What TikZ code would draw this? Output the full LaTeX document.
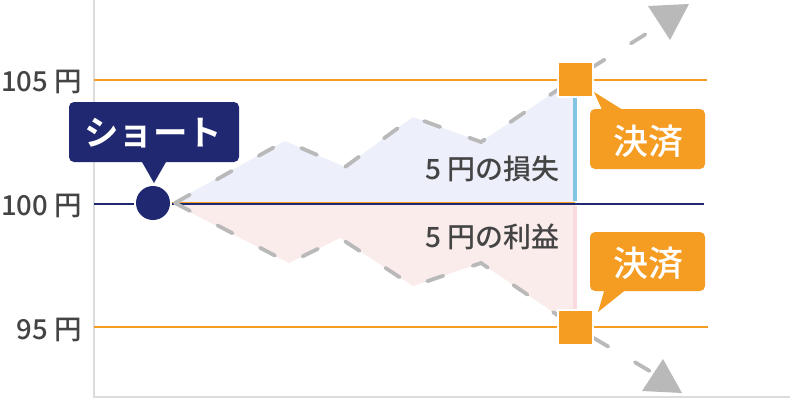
\documentclass[tikz,border=0pt]{standalone}
\usepackage{fontspec}
\setmainfont{Noto Sans CJK JP}
\newfontfamily\heavyjp{Noto Sans CJK JP Bold}
\newfontfamily\midjp{Noto Sans CJK JP Medium}
\definecolor{navy}{HTML}{1F2870}
\definecolor{amber}{HTML}{F59C23}
\definecolor{ink}{HTML}{444444}
\definecolor{dashgray}{HTML}{B9B9B9}
\definecolor{axisgray}{HTML}{DCDCDC}
\definecolor{lossfill}{HTML}{EDEFFA}
\definecolor{gainfill}{HTML}{FBECEC}
\definecolor{lossbar}{HTML}{82C4E4}
\definecolor{gainbar}{HTML}{FADADC}
\tikzset{
  pricelabel/.style={font=\midjp\fontsize{27.5pt}{30pt}\selectfont, text=ink, anchor=east, inner sep=0pt},
  arealabel/.style={font=\midjp\fontsize{28pt}{30pt}\selectfont, text=ink, inner sep=0pt},
  calloutlabel/.style={font=\midjp\fontsize{35pt}{38pt}\selectfont, text=white, inner sep=0pt},
  shortlabel/.style={font=\heavyjp\fontsize{34.5pt}{38pt}\selectfont, text=white, inner sep=0pt},
  pathdash/.style={draw=dashgray, line width=3.8pt, line cap=round, dash pattern=on 17pt off 31pt},
  pricelevel/.style={draw=amber, line width=2pt},
  tipshape/.style={fill=dashgray, draw=none},
  squaremark/.style={fill=amber, draw=white, line width=2pt, minimum size=35pt, inner sep=0pt, outer sep=0pt},
  dotmark/.style={circle, fill=navy, minimum size=34pt, inner sep=0pt, outer sep=0pt}
}
\begin{document}
\begin{tikzpicture}[x=1pt,y=-1pt]
\useasboundingbox (0,0) rectangle (800,400);
\fill[white] (0,0) rectangle (800,400);
% areas
\fill[lossfill] (172,203) -- (285,141) -- (345,167) -- (413,117) -- (481,142) -- (575,78) -- (575,203) -- cycle;
\fill[gainfill] (172,203) -- (289,263) -- (340,238) -- (413,286) -- (481,263) -- (575,327) -- (575,203) -- cycle;
% axes
\coordinate (axtop) at (94,0);
\coordinate (axcorner) at (94,397);
\coordinate (axend) at (790,397);
\draw[axisgray, line width=2pt] (axtop) -- (axcorner) -- (axend);
% levels
\coordinate (a1) at (94,80); \coordinate (a2) at (707,80);
\coordinate (b1) at (94,327); \coordinate (b2) at (708,327);
\coordinate (c1) at (94,204); \coordinate (c2) at (134,204);
\coordinate (c3) at (172,204); \coordinate (c4) at (704,204);
\coordinate (o1) at (172,202.6); \coordinate (o2) at (575,202.6);
\draw[pricelevel] (a1) -- (a2);
\draw[draw=amber, line width=2pt] (b1) -- (b2);
\draw[navy, line width=1.8pt] (c1) -- (c2);
\draw[amber, line width=1.4pt] (o1) -- (o2);
\draw[navy, line width=1.8pt] (c3) -- (c4);
% vertical bars
\coordinate (v1) at (575,98); \coordinate (v2) at (575,201);
\coordinate (v3) at (575,206); \coordinate (v4) at (575,310);
\draw[lossbar, line width=4pt] (v1) -- (v2);
\draw[gainbar, line width=4pt] (v3) -- (v4);
% dashed price paths
\coordinate (s) at (175,203);
\draw[pathdash] (s) -- (285,141) -- (345,167) -- (413,117) -- (481,142) -- (575,78) -- (675,16);
\draw[pathdash] (s) -- (289,263) -- (340,238) -- (413,286) -- (481,263) -- (575,327) -- (665,380);
% arrow heads
\fill[tipshape] (648,6) -- (689,4) -- (670,40) -- cycle;
\fill[tipshape] (663,359) -- (682,393) -- (642,391) -- cycle;
% markers
\node[squaremark] (sqa) at (575,79) {};
\node[squaremark] (sqb) at (575,327) {};
\node[dotmark] (pt) at (153,203) {};
% callouts
\fill[navy, rounded corners=5pt] (69,102) rectangle (239,162);
\fill[navy] (142,162) -- (154,183) -- (166,162) -- cycle;
\node[shortlabel] (short) at (153,133) {ショート};
\fill[amber, rounded corners=5pt] (590,109) rectangle (705,169);
\fill[amber] (594,92) -- (603,112) -- (626,112) -- cycle;
\node[calloutlabel] (k1) at (648,141) {決済};
\fill[amber, rounded corners=5pt] (590,232) rectangle (705,291);
\fill[amber] (598,312) -- (605,288) -- (628,288) -- cycle;
\node[calloutlabel] (k2) at (648,263) {決済};
% labels
\node[pricelabel] (p105) at (82,82) {105 円};
\node[pricelabel] (p100) at (82,206) {100 円};
\node[pricelabel] (p95) at (82,330) {95 円};
\node[arealabel, anchor=east] (loss) at (560,169) {5 円の損失};
\node[arealabel, anchor=east] (gain) at (560,237) {5 円の利益};
\end{tikzpicture}
\end{document}
